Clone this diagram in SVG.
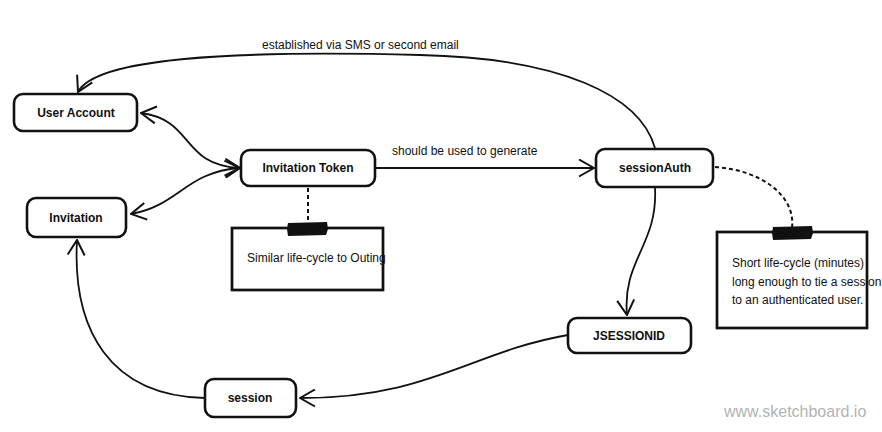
<svg xmlns="http://www.w3.org/2000/svg" width="882" height="432" viewBox="0 0 882 432">
<style>
.node{fill:#fff;stroke:#111;stroke-width:2.6}
.note{fill:#fff;stroke:#111;stroke-width:2.4}
.frame{fill:none;stroke:#111;stroke-width:2.4}
.nt{font-family:"Liberation Sans",Arial,sans-serif;font-size:12px;font-weight:bold;fill:#111;text-anchor:middle}
.lt{font-family:"Liberation Sans",Arial,sans-serif;font-size:12px;fill:#111}
.c{fill:none;stroke:#111;stroke-width:1.8}
.d{fill:none;stroke:#111;stroke-width:2;stroke-dasharray:4 3}
.tape{fill:#111}
</style>
<defs>
<marker id="a" viewBox="0 0 17 19" refX="16" refY="9.5" markerWidth="17" markerHeight="19" markerUnits="userSpaceOnUse" orient="auto-start-reverse">
<path d="M1,1 L16,9.5 L1,18" fill="none" stroke="#111" stroke-width="2"/>
</marker>
</defs>
<rect width="882" height="432" fill="#fff"/>
<g id="connectors">
<path class="c" d="M655,148 C640,95 560,58 420,55 C230,50 95,58 78,92" marker-end="url(#a)"/>
<text class="lt" x="262" y="49">established via SMS or second email</text>
<path class="c" d="M141,113 C195,120 180,165 240,168" marker-start="url(#a)" marker-end="url(#a)"/>
<path class="c" d="M131,214 C180,205 185,172 240,168" marker-start="url(#a)" marker-end="url(#a)"/>
<path class="c" d="M376,168 L594,168" marker-end="url(#a)"/>
<text class="lt" x="392" y="155">should be used to generate</text>
<path class="c" d="M655,188 C658,245 622,260 627,315" marker-end="url(#a)"/>
<path class="c" d="M568,335 C470,352 430,398 300,398" marker-end="url(#a)"/>
<path class="c" d="M205,398 C110,396 72,330 77,240" marker-end="url(#a)"/>
<path class="d" d="M308,188 L308,223"/>
<path class="d" d="M715,167 C760,170 796,195 792,228"/>
</g>
<g id="user-account">
<rect class="node" x="14" y="94" width="123" height="37" rx="9"/>
<text class="nt" x="76" y="117">User Account</text>
</g>
<g id="invitation">
<rect class="node" x="27" y="198" width="99" height="39" rx="9"/>
<text class="nt" x="76" y="222">Invitation</text>
</g>
<g id="invitation-token">
<rect class="node" x="241" y="150" width="134" height="36" rx="9"/>
<text class="nt" x="308" y="172">Invitation Token</text>
</g>
<g id="session-auth">
<rect class="node" x="596" y="149" width="117" height="38" rx="9"/>
<text class="nt" x="655" y="172">sessionAuth</text>
</g>
<g id="jsessionid">
<rect class="node" x="568" y="318" width="123" height="35" rx="9"/>
<text class="nt" x="629" y="340">JSESSIONID</text>
</g>
<g id="session">
<rect class="node" x="205" y="379" width="91" height="38" rx="9"/>
<text class="nt" x="250" y="402">session</text>
</g>
<g id="note-invitation-token">
<rect class="note" x="232" y="228" width="151" height="62"/>
<text class="lt" x="247" y="262">Similar life-cycle to Outing</text>
<rect class="frame" x="232" y="228" width="151" height="62"/>
<path class="tape" d="M288,223 L327,222 L328,229 L326,235 L288,236 L287,229 Z"/>
</g>
<g id="note-session-auth">
<rect class="note" x="717" y="232" width="150" height="96"/>
<text class="lt" x="732" y="267">Short life-cycle (minutes)</text>
<text class="lt" x="732" y="286">long enough to tie a session</text>
<text class="lt" x="732" y="304">to an authenticated user.</text>
<rect class="frame" x="717" y="232" width="150" height="96"/>
<path class="tape" d="M773,227 L812,226 L813,233 L811,239 L773,240 L772,233 Z"/>
</g>
<text x="724" y="417" font-family="Liberation Sans,Arial,sans-serif" font-size="16" fill="#b3b3b3">www.sketchboard.io</text>
</svg>
